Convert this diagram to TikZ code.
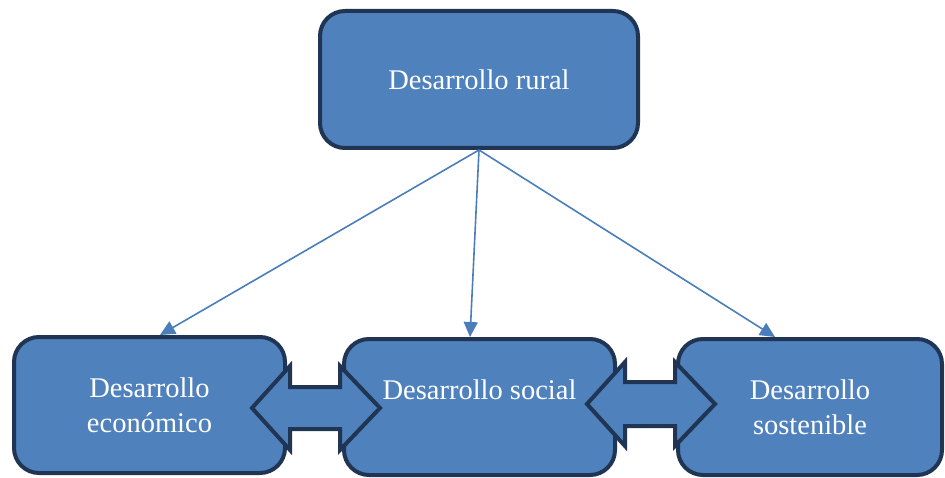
\documentclass[tikz,border=0pt]{standalone}
\usepackage{fontspec}
\setmainfont{Liberation Serif}
\usepackage{tikz}
\usetikzlibrary{calc}
\usetikzlibrary{arrows.meta}
\definecolor{boxfill}{HTML}{4F81BD}
\definecolor{boxline}{HTML}{1F3553}
\definecolor{connline}{HTML}{4A7EBB}
\tikzset{>=latex}

\begin{document}
\begin{tikzpicture}[x=1pt, y=-1pt,
    blockbox/.style={draw=boxline, fill=boxfill, line width=4pt, rounded corners=25pt,
        text=white, align=center, inner sep=0pt,
        font=\fontsize{28.5}{35}\selectfont},
    conn/.style={draw=connline, line width=1.6pt, -{Triangle[length=15pt, width=14pt]}},
    twoway/.style={draw=boxline, fill=boxfill, line width=4pt, line join=miter}]
        \useasboundingbox (0, 0) rectangle (945, 478);

        % rural
        \node[blockbox, minimum width=318, minimum height=137] (rural) at (479, 79.5) {Desarrollo rural};

        % bottom row
        \node[blockbox, minimum width=271, minimum height=136] (eco) at (149.5, 405) {Desarrollo\\econ\'omico};
        \node[blockbox, minimum width=271, minimum height=136] (soc) at (479.5, 407) {Desarrollo social\\\mbox{}};
        \node[blockbox, minimum width=264, minimum height=136] (sost) at (810, 407) {Desarrollo\\sostenible};

        % connectors
        \draw[conn] (rural.south) -- ($(eco.north)+(10.5, 0)$);
        \draw[conn] (rural.south) -- ($(soc.north)+(-9.5, 0)$);
        \draw[conn] (rural.south) -- ($(sost.north)+(-35, 0)$);

        % double arrows
        \draw[twoway] (252, 408) -- (290, 366) -- (290, 387) -- (340, 387) -- (340, 366) -- (380, 408)
            -- (340, 450) -- (340, 429) -- (290, 429) -- (290, 450) -- cycle;
        \draw[twoway] (587, 404) -- (625, 362) -- (625, 382) -- (675, 382) -- (675, 362) -- (715, 404)
            -- (675, 446) -- (675, 426) -- (625, 426) -- (625, 446) -- cycle;
    \end{tikzpicture}
\end{document}
